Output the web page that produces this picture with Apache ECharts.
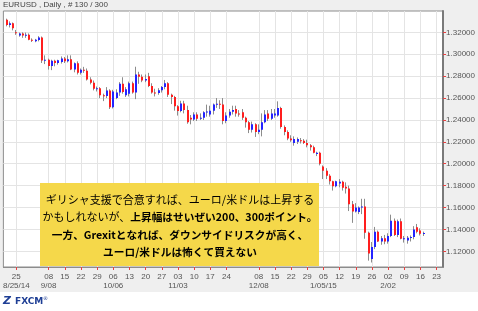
<!DOCTYPE html>
<html><head><meta charset="utf-8">
<script src="https://cdn.jsdelivr.net/npm/echarts@6/dist/echarts.min.js"></script>
<style>html,body{margin:0;padding:0;background:#fff;}#c{width:478px;height:311px;}</style>
</head><body><div id="c"></div>
<script>
// ---- data (EUR/USD daily) ----
const firstBarDate = '2014-08-20';
const barOpen = [
1.3316,1.3268,1.3282,1.3200,1.3172,1.3190,1.3172,1.3178,1.3132,1.3118,
1.3130,1.3152,1.2944,1.2950,1.2893,1.2940,1.2920,1.2930,1.2962,1.2935,
1.2955,1.2860,1.2918,1.2830,1.2858,1.2850,1.2770,1.2740,1.2684,1.2690,
1.2625,1.2618,1.2670,1.2515,1.2600,1.2650,1.2730,1.2625,1.2640,1.2735,
1.2650,1.2815,1.2795,1.2760,1.2800,1.2710,1.2650,1.2645,1.2672,1.2700,
1.2735,1.2630,1.2610,1.2525,1.2482,1.2550,1.2490,1.2420,1.2405,1.2450,
1.2410,1.2420,1.2470,1.2450,1.2485,1.2540,1.2548,1.2540,1.2390,1.2440,
1.2475,1.2500,1.2460,1.2470,1.2420,1.2380,1.2310,1.2360,1.2290,1.2310,
1.2380,1.2460,1.2410,1.2440,1.2440,1.2510,1.2335,1.2290,1.2230,1.2190,
1.2200,1.2215,1.2210,1.2190,1.2170,1.2150,1.2090,1.2100,1.1975,1.1935,
1.1890,1.1840,1.1795,1.1820,1.1835,1.1790,1.1775,1.1630,1.1565,1.1560,
1.1600,1.1610,1.1370,1.1130,1.1240,1.1380,1.1290,1.1320,1.1290,1.1340,
1.1480,1.1350,1.1475,1.1315,1.1300,1.1325,1.1330,1.1420,1.1390,1.1360];
const barHigh = [
1.3325,1.3300,1.3290,1.3222,1.3198,1.3200,1.3198,1.3190,1.3145,1.3140,
1.3165,1.3162,1.2990,1.2960,1.2950,1.2950,1.2950,1.2980,1.2975,1.2990,
1.2990,1.2925,1.2935,1.2870,1.2885,1.2870,1.2790,1.2760,1.2705,1.2700,
1.2640,1.2700,1.2680,1.2675,1.2680,1.2745,1.2790,1.2700,1.2750,1.2750,
1.2886,1.2840,1.2815,1.2815,1.2830,1.2735,1.2685,1.2690,1.2710,1.2765,
1.2745,1.2640,1.2620,1.2535,1.2575,1.2575,1.2530,1.2445,1.2470,1.2470,
1.2460,1.2480,1.2540,1.2530,1.2550,1.2600,1.2580,1.2600,1.2470,1.2500,
1.2530,1.2530,1.2490,1.2500,1.2430,1.2390,1.2385,1.2370,1.2360,1.2460,
1.2490,1.2490,1.2500,1.2500,1.2570,1.2520,1.2350,1.2305,1.2260,1.2250,
1.2240,1.2235,1.2225,1.2220,1.2180,1.2165,1.2110,1.2110,1.1985,1.1960,
1.1905,1.1845,1.1845,1.1860,1.1845,1.1830,1.1800,1.1660,1.1640,1.1610,
1.1680,1.1680,1.1380,1.1285,1.1423,1.1390,1.1340,1.1350,1.1365,1.1535,
1.1500,1.1490,1.1500,1.1340,1.1340,1.1345,1.1430,1.1450,1.1410,1.1380];
const barLow = [
1.3255,1.3245,1.3218,1.3177,1.3160,1.3150,1.3150,1.3128,1.3112,1.3110,
1.3118,1.2920,1.2910,1.2860,1.2855,1.2890,1.2905,1.2915,1.2920,1.2925,
1.2855,1.2835,1.2815,1.2815,1.2830,1.2760,1.2725,1.2670,1.2660,1.2600,
1.2572,1.2600,1.2500,1.2505,1.2590,1.2620,1.2640,1.2610,1.2615,1.2640,
1.2590,1.2730,1.2745,1.2745,1.2700,1.2640,1.2615,1.2630,1.2650,1.2680,
1.2610,1.2545,1.2485,1.2440,1.2470,1.2460,1.2365,1.2360,1.2390,1.2390,
1.2400,1.2400,1.2430,1.2430,1.2450,1.2510,1.2500,1.2360,1.2370,1.2420,
1.2450,1.2430,1.2430,1.2400,1.2330,1.2280,1.2285,1.2245,1.2270,1.2250,
1.2370,1.2390,1.2400,1.2420,1.2430,1.2320,1.2260,1.2215,1.2200,1.2165,
1.2180,1.2185,1.2180,1.2150,1.2120,1.2095,1.2070,1.1985,1.1860,1.1860,
1.1810,1.1755,1.1785,1.1785,1.1755,1.1728,1.1568,1.1460,1.1555,1.1540,
1.1540,1.1315,1.1115,1.1098,1.1220,1.1285,1.1260,1.1265,1.1270,1.1330,
1.1340,1.1330,1.1310,1.1280,1.1270,1.1290,1.1310,1.1365,1.1345,1.1340];
const barClose = [
1.3268,1.3282,1.3238,1.3192,1.3190,1.3172,1.3178,1.3132,1.3128,1.3132,
1.3152,1.2944,1.2950,1.2893,1.2940,1.2920,1.2945,1.2962,1.2935,1.2955,
1.2860,1.2918,1.2830,1.2858,1.2850,1.2770,1.2740,1.2684,1.2690,1.2625,
1.2618,1.2670,1.2515,1.2660,1.2650,1.2730,1.2655,1.2680,1.2735,1.2650,
1.2815,1.2795,1.2760,1.2775,1.2710,1.2650,1.2645,1.2672,1.2700,1.2735,
1.2630,1.2610,1.2525,1.2482,1.2550,1.2490,1.2380,1.2405,1.2450,1.2410,
1.2420,1.2470,1.2478,1.2485,1.2540,1.2548,1.2540,1.2390,1.2440,1.2475,
1.2490,1.2460,1.2450,1.2420,1.2380,1.2310,1.2360,1.2290,1.2310,1.2380,
1.2450,1.2410,1.2460,1.2460,1.2510,1.2335,1.2290,1.2230,1.2215,1.2225,
1.2225,1.2210,1.2190,1.2170,1.2150,1.2100,1.2100,1.2000,1.1935,1.1890,
1.1840,1.1795,1.1840,1.1835,1.1780,1.1775,1.1630,1.1565,1.1600,1.1600,
1.1610,1.1370,1.1180,1.1240,1.1380,1.1290,1.1320,1.1290,1.1340,1.1480,
1.1350,1.1475,1.1315,1.1320,1.1325,1.1330,1.1400,1.1380,1.1360,1.1368];

const tickDates = ['2014-08-25','2014-09-08','2014-09-15','2014-09-22','2014-09-29','2014-10-06','2014-10-13','2014-10-20','2014-10-27','2014-11-03','2014-11-10','2014-11-17','2014-11-24','2014-12-08','2014-12-15','2014-12-22','2014-12-29','2015-01-05','2015-01-12','2015-01-19','2015-01-26','2015-02-02','2015-02-09','2015-02-16','2015-02-23'];
const tickDayLabels = ['25','08','15','22','29','06','13','20','27','03','10','17','24','08','15','22','29','05','12','19','26','02','09','16','23'];
const tickMonthLabels = ['8/25/14','9/08','','','','10/06','','','','11/03','','','','12/08','','','','1/05/15','','','','2/02','','',''];
const yTicks = [1.12,1.14,1.16,1.18,1.20,1.22,1.24,1.26,1.28,1.30,1.32];
const titleText = 'EURUSD , Daily , # 130 / 300';
const noteLines = [
  '{n|ギリシャ支援で合意すれば、ユーロ/米ドルは上昇する}',
  '{n|かもしれないが、}{b|上昇幅はせいぜい200、300ポイント。}',
  '{b|一方、Grexitとなれば、ダウンサイドリスクが高く、}',
  '{b|ユーロ/米ドルは怖くて買えない}'
];

// weekday categories (one slot before first bar, some after the last)
const categories = [];
(function(){
  let d = new Date(Date.UTC(2014,7,19));
  while (categories.length < 137) {
    const wd = d.getUTCDay();
    if (wd !== 0 && wd !== 6) categories.push(d.toISOString().slice(0,10));
    d = new Date(d.getTime() + 86400000);
  }
})();
const offset = categories.indexOf(firstBarDate);
const seriesData = barOpen.map((o,k)=>[k+offset, o, barClose[k], barLow[k], barHigh[k]]);
const isTick = (idx, val) => tickDates.indexOf(val !== undefined ? val : categories[idx]) >= 0;

function renderItem(params, api) {
  const idx = api.value(0);
  const o = api.value(1), c = api.value(2), l = api.value(3), h = api.value(4);
  const pO = api.coord([idx, o]), pC = api.coord([idx, c]);
  const pL = api.coord([idx, l]), pH = api.coord([idx, h]);
  const x = Math.round(pO[0]);
  const color = c > o ? '#2323ff' : (c < o ? '#ff1e1e' : '#8a8a8a');
  const top = Math.min(pO[1], pC[1]);
  const bh = Math.max(Math.abs(pO[1]-pC[1]), 1);
  return {type:'group', children:[
    {type:'line', shape:{x1:x-0.5, y1:pH[1], x2:x-0.5, y2:pL[1]}, style:{stroke:'#8c8c8c', lineWidth:1}},
    {type:'rect', shape:{x:x-1, y:top, width:2, height:bh}, style:{fill:color}}
  ]};
}

const chart = echarts.init(document.getElementById('c'));
chart.setOption({
  animation:false,
  backgroundColor:'#efefef',
  grid:{left:3, right:34, top:11, bottom:44, show:true, backgroundColor:'#ffffff', borderColor:'#8c8c8c', borderWidth:1},
  xAxis:{
    type:'category', data:categories, boundaryGap:false,
    axisLine:{show:true, lineStyle:{color:'#8c8c8c', width:1}},
    axisTick:{show:true, interval:isTick, length:3, lineStyle:{color:'#e84040'}},
    axisLabel:{interval:isTick, fontSize:8, color:'#555', fontFamily:'Liberation Sans', lineHeight:9, margin:5,
      formatter:(v)=>{const i=tickDates.indexOf(v); return i<0?'':tickDayLabels[i]+'\n'+tickMonthLabels[i];}},
    splitLine:{show:true, interval:isTick, lineStyle:{color:'#e4e4e4', width:1}}
  },
  yAxis:{
    type:'value', position:'right', min:1.1057, max:1.3395, splitNumber:12, scale:true,
    axisLine:{show:true, lineStyle:{color:'#7a7a7a', width:2}},
    axisTick:{show:true, length:3, customValues:yTicks, lineStyle:{color:'#e84040'}},
    axisLabel:{customValues:yTicks, fontSize:8, color:'#555', fontFamily:'Liberation Sans', margin:3,
      formatter:(v)=>v.toFixed(5)},
    splitLine:{show:true, lineStyle:{color:'#e4e4e4', width:1}}
  },
  series:[{type:'custom', renderItem:renderItem, data:seriesData, encode:{x:0, y:[1,2,3,4]}, clip:true}],
  graphic:[
    {type:'rect', shape:{x:0, y:292, width:478, height:19}, style:{fill:'#ffffff'}, z:1},
    {type:'text', x:3, y:1, style:{text:titleText, font:'8px "Liberation Sans"', fill:'#444'}, z:1},
    {type:'rect', shape:{x:40, y:183, width:279, height:83}, style:{fill:'#f5d84a'}, z:100},
    ...noteLines.map((t,k)=>({type:'text', x:180, y:200 + k*17.3, z:101,
      style:{text:t, align:'center', verticalAlign:'middle', fill:'#000',
        rich:{n:{fontSize:11, fontFamily:'"Noto Sans CJK JP"', fontWeight:'normal', fill:'#000'},
              b:{fontSize:10.7, fontFamily:'"Noto Sans CJK JP"', fontWeight:'bold', fill:'#000'}}}})),
    {type:'text', x:3, y:296, style:{text:'Z', font:'italic bold 11px "DejaVu Sans"', fill:'#1f3f95'}, z:1},
    {type:'text', x:15, y:297, style:{text:'FXCM', font:'bold 9px "DejaVu Sans"', fill:'#1f3f95'}, z:1},
    {type:'text', x:43, y:296, style:{text:'®', font:'5px "DejaVu Sans"', fill:'#1f3f95'}, z:1}
  ]
});
</script></body></html>
